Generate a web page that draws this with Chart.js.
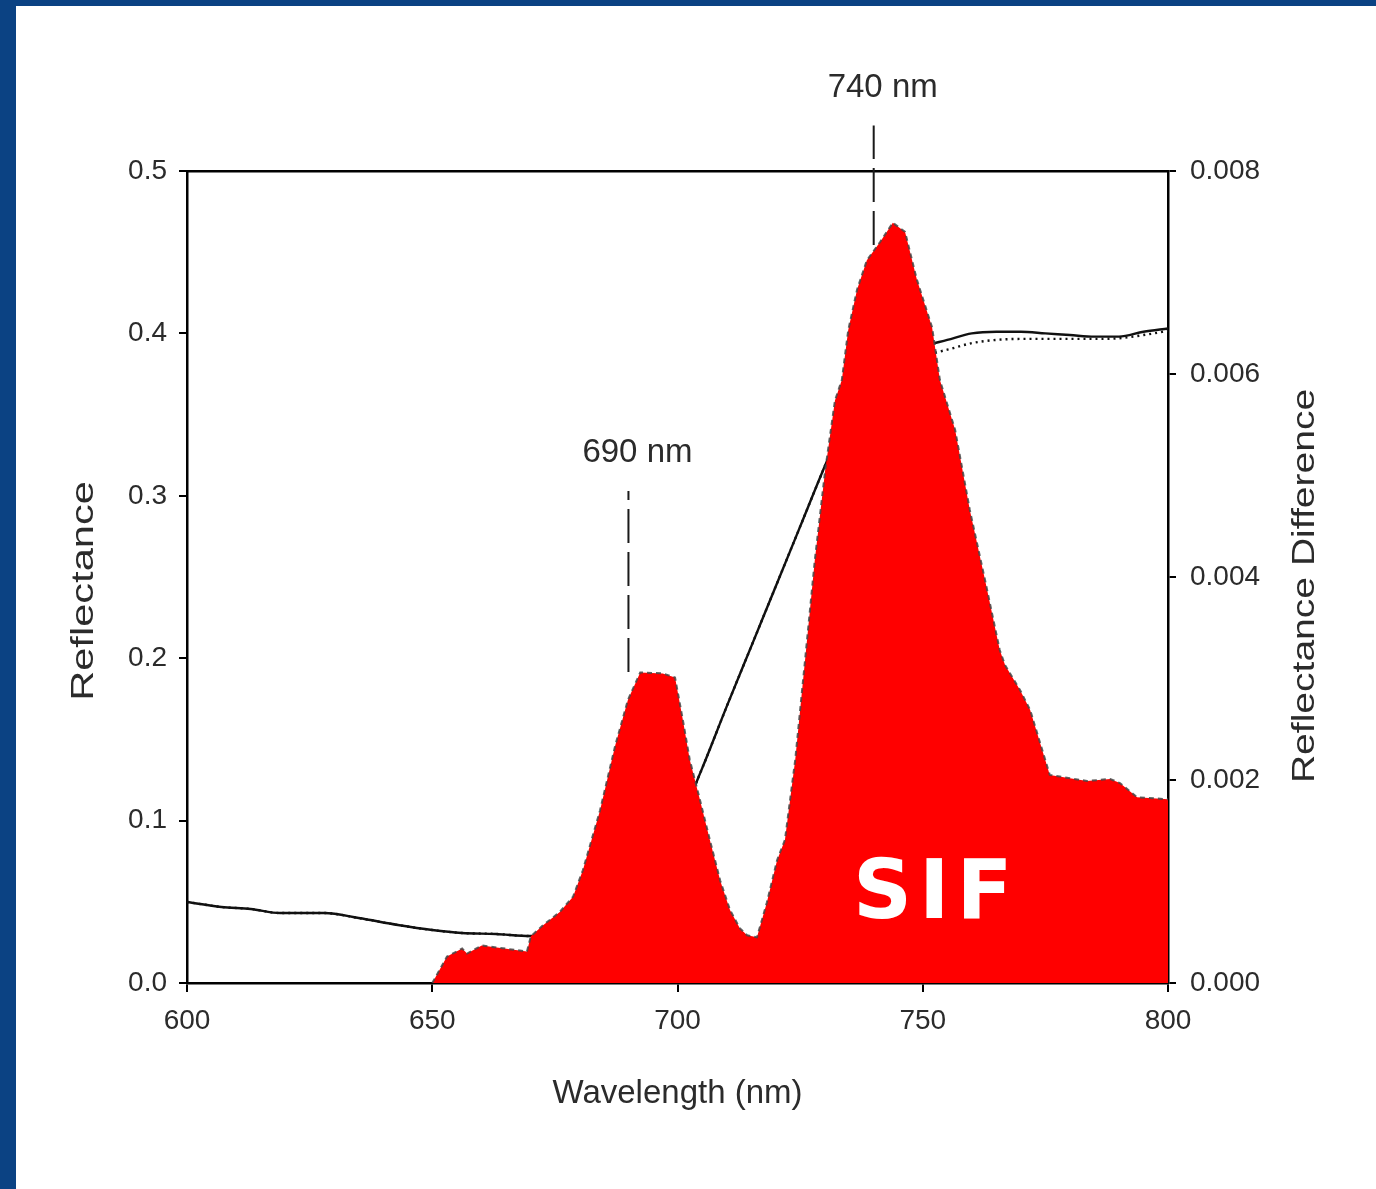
<!DOCTYPE html>
<html>
<head>
<meta charset="utf-8">
<title>Reflectance dan SIF</title>
<script src="https://cdn.jsdelivr.net/npm/chart.js@4.4.1/dist/chart.umd.min.js"></script>
<style>
  html, body { margin: 0; padding: 0; background: #fff; }
  #wrap { position: relative; width: 1376px; height: 1189px; overflow: hidden; }
  #frame { position: absolute; left: 0; top: 0; width: 1376px; height: 1189px; box-sizing: border-box;
           border-left: 16px solid #0b4283; border-top: 6px solid #0b4283; }
  #grafik { position: absolute; left: 0; top: 0; }
</style>
</head>
<body>
<div id="wrap">
  <div id="frame"></div>
  <canvas id="grafik" width="1376" height="1189"></canvas>
</div>
<script>
// Reflektansi kanopi (sumbu kiri)
const wlRefl = [600, 607, 613, 619, 628, 635, 643, 650, 656, 663, 670, 675, 680, 685, 690, 695, 700,
  705, 710, 715, 720, 725, 730, 735, 740, 745, 750, 755, 760, 765, 770, 775, 780, 785, 790, 795, 800];
const reflSolid = [0.0499, 0.0468, 0.0456, 0.0431, 0.0431, 0.0400, 0.0357, 0.0326, 0.0308, 0.0302, 0.0289,
  0.030, 0.033, 0.040, 0.052, 0.072, 0.097, 0.132, 0.170, 0.207, 0.244, 0.281, 0.318, 0.353, 0.374, 0.387,
  0.392, 0.396, 0.400, 0.401, 0.401, 0.400, 0.399, 0.398, 0.398, 0.401, 0.403];
const reflDotted = [0.0499, 0.0468, 0.0456, 0.0431, 0.0431, 0.0400, 0.0357, 0.0326, 0.0308, 0.0302, 0.0289,
  0.030, 0.033, 0.040, 0.052, 0.072, 0.097, 0.132, 0.170, 0.207, 0.244, 0.281, 0.318, 0.353, 0.374, 0.387,
  0.387, 0.390, 0.394, 0.396, 0.3966, 0.3966, 0.3966, 0.3966, 0.397, 0.399, 0.4015];

// Selisih reflektansi = SIF (sumbu kanan)
const wlSif = [650, 653, 656.1, 657.1, 660.1, 669.3, 670.1, 672.6, 676, 678.7, 680.7, 684.2, 687.3, 689.9,
  692.4, 697, 699.5, 701.1, 702.5, 704.6, 706.6, 708.7, 710.7, 712.7, 714.2, 716.2, 718.2, 720.3, 721.9, 724,
  726, 728, 730.1, 732.1, 733.5, 734.8, 736.6, 738.6, 741.3, 743.9, 746.4, 748.8, 751.9, 753.5, 756.6, 759.6,
  762.7, 765.7, 766.8, 769.8, 771.9, 775.9, 783.5, 788.2, 790.2, 793.7, 800];
const sifDiff = [0, 0.00026, 0.00034, 0.00029, 0.00037, 0.00031, 0.00046, 0.00057, 0.00070, 0.00085, 0.00111,
  0.0017, 0.00234, 0.00279, 0.00306, 0.00305, 0.00301, 0.00259, 0.0022, 0.0018, 0.00141, 0.00101, 0.00072,
  0.00054, 0.00047, 0.00045, 0.00079, 0.00121, 0.00141, 0.0022, 0.00318, 0.00417, 0.00505, 0.00574, 0.00594,
  0.00643, 0.00683, 0.00712, 0.0073, 0.00749, 0.0074, 0.00693, 0.00646, 0.00594, 0.00545, 0.00466, 0.00397,
  0.00328, 0.00313, 0.00289, 0.00269, 0.00205, 0.00199, 0.00201, 0.00197, 0.00183, 0.00181];

// Garis penanda puncak (nilai pada sumbu kiri)
const markerWl = [690, 740];
const markerTop = [0.303, 0.528];
const markerBottom = [0.1915, 0.4545];
const markerText = ['690 nm', '740 nm'];

const xTicks = [600, 650, 700, 750, 800];

const fontFam = '"Liberation Sans", Arial, sans-serif';
const warnaTeks = '#2b2b2b';

function toPoints(xs, ys) {
  return xs.map((v, i) => ({ x: v, y: ys[i] }));
}

// Teks tegak lurus, sedikit direnggangkan sepanjang arah tulisan
function drawRotated(ctx, text, x, y, sx) {
  ctx.save();
  ctx.translate(x, y);
  ctx.rotate(-Math.PI / 2);
  ctx.scale(sx, 1);
  ctx.textAlign = 'center';
  ctx.fillText(text, 0, 0);
  ctx.restore();
}

const teksPlugin = {
  id: 'teksTambahan',
  afterDraw(chart) {
    const { ctx, chartArea, scales } = chart;
    const midY = (chartArea.top + chartArea.bottom) / 2;
    ctx.save();
    ctx.fillStyle = warnaTeks;
    ctx.textBaseline = 'alphabetic';

    // label garis penanda
    ctx.font = '33px ' + fontFam;
    ctx.textAlign = 'center';
    markerWl.forEach((wl, i) => {
      ctx.fillText(markerText[i], scales.x.getPixelForValue(wl) + 9, scales.y.getPixelForValue(markerTop[i]) - 29);
    });

    // judul sumbu
    ctx.fillText('Wavelength (nm)', (chartArea.left + chartArea.right) / 2, chartArea.bottom + 120);
    ctx.font = '32px ' + fontFam;
    drawRotated(ctx, 'Reflectance', chartArea.left - 94, midY + 14, 1.3);
    drawRotated(ctx, 'Reflectance Difference', chartArea.right + 146, midY + 9, 1.22);

    // tulisan SIF di dalam area merah
    ctx.fillStyle = '#ffffff';
    ctx.font = 'bold 82px "DejaVu Sans", Verdana, sans-serif';
    ctx.letterSpacing = '7px';
    ctx.textAlign = 'left';
    ctx.fillText('SIF', chartArea.left + 666, chartArea.bottom - 65);
    ctx.restore();
  }
};

const tickFont = { family: fontFam, size: 28 };

const markerSets = markerWl.map((wl, i) => ({
  label: markerText[i],
  data: [{ x: wl, y: markerBottom[i] }, { x: wl, y: markerTop[i] }],
  yAxisID: 'y',
  borderColor: '#1a1a1a',
  borderWidth: 2,
  borderDash: [34, 9],
  pointRadius: 0,
  fill: false,
  clip: false,
  order: 3
}));

const chart = new Chart(document.getElementById('grafik'), {
  type: 'line',
  data: {
    datasets: [
      {
        label: 'Reflectance Difference',
        data: toPoints(wlSif, sifDiff),
        yAxisID: 'y2',
        backgroundColor: '#ff0000',
        borderColor: 'rgba(70,70,70,0.85)',
        borderWidth: 2,
        borderDash: [5, 4],
        pointRadius: 0,
        fill: 'origin',
        tension: 0,
        order: 0
      },
      {
        label: 'Reflectance',
        data: toPoints(wlRefl, reflSolid),
        yAxisID: 'y',
        borderColor: '#111',
        borderWidth: 2.4,
        pointRadius: 0,
        fill: false,
        cubicInterpolationMode: 'monotone',
        order: 2
      },
      {
        label: 'Reflectance (dotted)',
        data: toPoints(wlRefl, reflDotted),
        yAxisID: 'y',
        borderColor: '#111',
        borderWidth: 2.4,
        borderDash: [2, 4],
        pointRadius: 0,
        fill: false,
        cubicInterpolationMode: 'monotone',
        order: 1
      },
      ...markerSets
    ]
  },
  options: {
    responsive: false,
    devicePixelRatio: 1,
    animation: false,
    layout: { padding: 0 },
    plugins: {
      legend: { display: false },
      tooltip: { enabled: false }
    },
    scales: {
      x: {
        type: 'linear',
        position: 'bottom',
        min: 600,
        max: 800,
        afterBuildTicks: s => { s.ticks = xTicks.map(v => ({ value: v })); },
        ticks: { font: tickFont, color: warnaTeks, padding: 12 },
        grid: { drawOnChartArea: false, drawTicks: true, tickLength: 9, color: '#000', lineWidth: 2 },
        border: { display: true, color: '#000', width: 2.5 },
        afterFit: s => { s.height = 206; }
      },
      xTop: {
        type: 'linear',
        position: 'top',
        display: true,
        min: 600,
        max: 800,
        ticks: { display: false },
        grid: { display: false, drawTicks: false },
        border: { display: true, color: '#000', width: 2.5 },
        afterFit: s => { s.height = 171; }
      },
      y: {
        type: 'linear',
        position: 'left',
        min: 0,
        max: 0.5,
        ticks: { stepSize: 0.1, font: tickFont, color: warnaTeks, padding: 12, callback: v => v.toFixed(1) },
        grid: { drawOnChartArea: false, drawTicks: true, tickLength: 8, color: '#000', lineWidth: 2 },
        border: { display: true, color: '#000', width: 2.5 },
        afterFit: s => { s.width = 187; }
      },
      y2: {
        type: 'linear',
        position: 'right',
        min: 0,
        max: 0.008,
        ticks: { stepSize: 0.002, font: tickFont, color: warnaTeks, padding: 14, callback: v => v.toFixed(3) },
        grid: { drawOnChartArea: false, drawTicks: true, tickLength: 8, color: '#000', lineWidth: 2 },
        border: { display: true, color: '#000', width: 2.5 },
        afterFit: s => { s.width = 208; }
      }
    }
  },
  plugins: [teksPlugin]
});
</script>
</body>
</html>
